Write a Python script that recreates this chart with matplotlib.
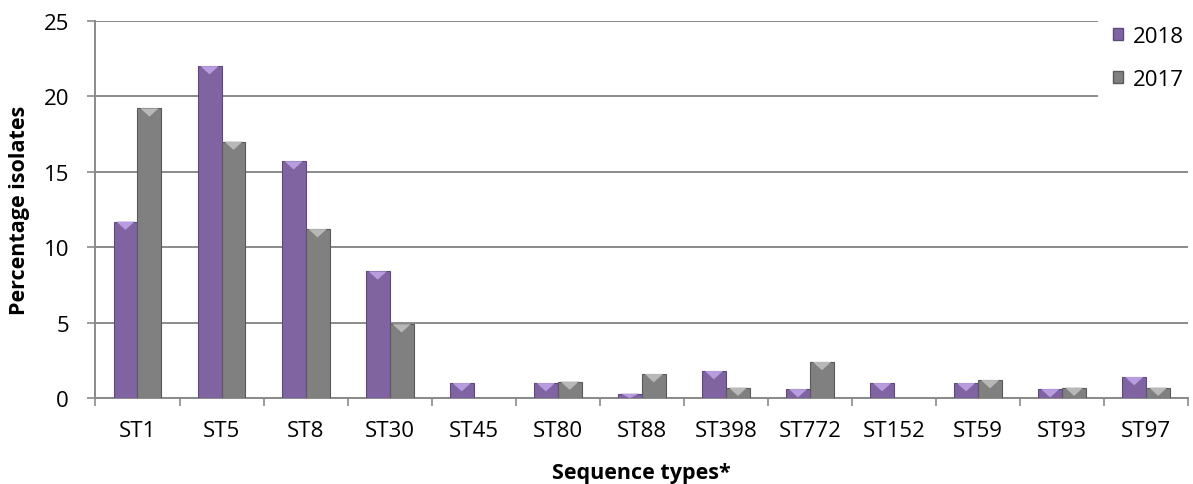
import matplotlib.pyplot as plt
import numpy as np
from matplotlib.patches import Polygon, Patch

plt.rcParams['font.family'] = ['Open Sans', 'DejaVu Sans']

# 数据
sequence_types = ['ST1', 'ST5', 'ST8', 'ST30', 'ST45', 'ST80', 'ST88',
                  'ST398', 'ST772', 'ST152', 'ST59', 'ST93', 'ST97']
pct_2018 = [11.7, 22.0, 15.7, 8.4, 1.0, 1.0, 0.3, 1.8, 0.6, 1.0, 1.0, 0.6, 1.4]
pct_2017 = [19.2, 17.0, 11.2, 4.9, 0.0, 1.1, 1.6, 0.7, 2.4, 0.0, 1.2, 0.7, 0.7]

purple = '#8064A2'
purple_top = '#B89CE0'
gray = '#808080'
gray_top = '#B8B8B8'

fig, ax = plt.subplots(figsize=(11.93, 4.85), dpi=100)
fig.subplots_adjust(left=0.080, right=0.996, top=0.955, bottom=0.177)

x = np.arange(len(sequence_types))
w = 0.285
bars18 = ax.bar(x - w / 2, pct_2018, w, color=purple, edgecolor='#5E4A7A',
                linewidth=0.8, zorder=3)
bars17 = ax.bar(x + w / 2, pct_2017, w, color=gray, edgecolor='#5A5A5A',
                linewidth=0.8, zorder=3)

# 顶部的浅色斜面
for bars, c in [(bars18, purple_top), (bars17, gray_top)]:
    for b in bars:
        h = b.get_height()
        if h <= 0:
            continue
        x0, bw = b.get_x(), b.get_width()
        d = min(0.55, h)
        tri = Polygon([(x0 + bw * 0.12, h), (x0 + bw * 0.88, h),
                       (x0 + bw / 2, h - d)], closed=True,
                      facecolor=c, edgecolor='none', zorder=4)
        ax.add_patch(tri)

ax.set_xlim(-0.5, len(sequence_types) - 0.5)
ax.set_ylim(0, 25)
ax.set_yticks(np.arange(0, 26, 5))
ax.yaxis.grid(True, color='#8A8A8A', linewidth=1.4, zorder=0)
ax.set_axisbelow(True)

# 刻度：类别边界处画刻度线，标签放在中间
ax.set_xticks(np.arange(-0.5, len(sequence_types) + 0.5, 1))
ax.set_xticklabels([])
ax.set_xticks(x, minor=True)
ax.set_xticklabels(sequence_types, minor=True)
ax.tick_params(axis='x', which='major', length=6, width=1.2, color='#8A8A8A')
ax.tick_params(axis='x', which='minor', length=0, pad=16, labelsize=16)
ax.tick_params(axis='y', length=6, width=1.2, color='#8A8A8A', labelsize=16, pad=13)

for s in ['top', 'right']:
    ax.spines[s].set_visible(False)
for s in ['left', 'bottom']:
    ax.spines[s].set_color('#8A8A8A')
    ax.spines[s].set_linewidth(1.4)

ax.set_ylabel('Percentage isolates', fontsize=15.5, fontweight='bold')
ax.yaxis.set_label_coords(-0.060, 0.5)
ax.set_xlabel('Sequence types*', fontsize=15.5, fontweight='bold')
ax.xaxis.set_label_coords(0.5, -0.168)

legend_elements = [Patch(facecolor=purple, edgecolor='#5E4A7A', label='2018'),
                   Patch(facecolor=gray, edgecolor='#5A5A5A', label='2017')]
leg = ax.legend(handles=legend_elements, loc='upper left',
                bbox_to_anchor=(0.920, 0.976), bbox_transform=fig.transFigure,
                borderaxespad=0, frameon=True, fancybox=False, edgecolor='none',
                framealpha=1, fontsize=16, handlelength=0.45, handleheight=0.45,
                handletextpad=0.45, labelspacing=0.97, borderpad=0.7)
leg.set_zorder(5)

plt.savefig('out.png', dpi=100)
